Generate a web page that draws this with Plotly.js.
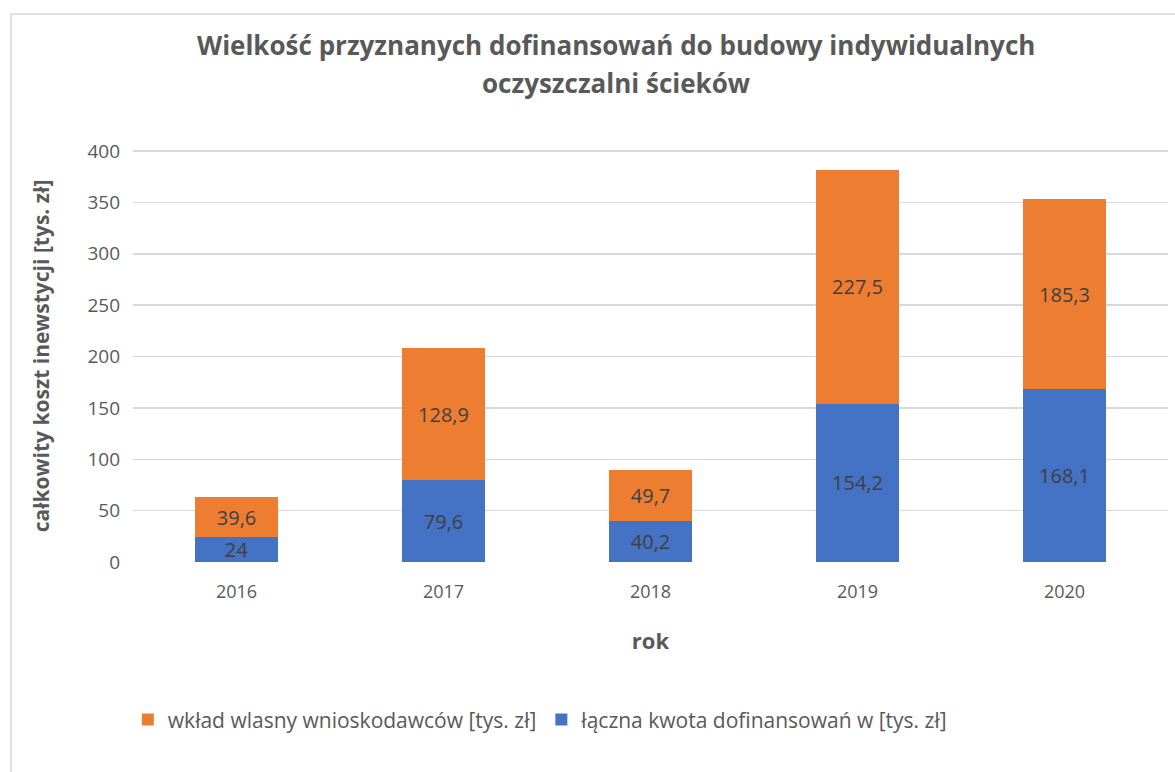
<!DOCTYPE html>
<html>
<head>
<meta charset="utf-8">
<script src="https://cdn.plot.ly/plotly-3.0.1.min.js"></script>
<style>html,body{margin:0;padding:0;background:#fff;}#chart{width:1175px;height:772px;}</style>
</head>
<body>
<div id="chart"></div>
<script>
const years = ['2016', '2017', '2018', '2019', '2020'];
const dofinansowanie = [24, 79.6, 40.2, 154.2, 168.1];
const wkladWlasny = [39.6, 128.9, 49.7, 227.5, 185.3];
const seriesNames = ['łączna kwota dofinansowań w [tys. zł]', 'wkład wlasny wnioskodawców [tys. zł]'];
const yTicks = [0, 50, 100, 150, 200, 250, 300, 350, 400];

const fmt = v => String(v).replace('.', ',');
const FONT = 'Open Sans, sans-serif';
const labelFont = {family: FONT, size: 20, color: '#404040'};

const traces = [
  {type: 'bar', x: years, y: dofinansowanie, name: seriesNames[0],
   marker: {color: '#4472C4'}, text: dofinansowanie.map(fmt),
   textposition: 'inside', insidetextanchor: 'middle', constraintext: 'none', textangle: 0,
   textfont: labelFont, hoverinfo: 'x+y'},
  {type: 'bar', x: years, y: wkladWlasny, name: seriesNames[1],
   marker: {color: '#ED7D31'}, text: wkladWlasny.map(fmt),
   textposition: 'inside', insidetextanchor: 'middle', constraintext: 'none', textangle: 0,
   textfont: labelFont, hoverinfo: 'x+y'}
];

const layout = {
  width: 1175, height: 772,
  margin: {l: 133, r: 7, t: 150, b: 210},
  paper_bgcolor: '#ffffff', plot_bgcolor: '#ffffff',
  barmode: 'stack', bargap: 0.595,
  font: {family: FONT, color: '#595959'},
  showlegend: true,
  legend: {orientation: 'h', traceorder: 'reversed', x: -0.005, xanchor: 'left',
           y: -0.383, yanchor: 'middle', itemwidth: 30,
           font: {family: FONT, size: 21, color: '#595959'}},
  xaxis: {type: 'category', showgrid: false, showline: false, ticks: '',
          ticklabelstandoff: 17,
          tickfont: {family: FONT, size: 18, color: '#595959'},
          title: {text: 'rok', font: {family: FONT, size: 22, color: '#595959', weight: 'bold'}, standoff: 31}},
  yaxis: {range: [0, 401], tickvals: yTicks, showgrid: true, gridcolor: '#d9d9d9', gridwidth: 1.5,
          zeroline: false, showline: false, ticks: '', ticklen: 0,
          ticklabelstandoff: 12,
          tickfont: {family: FONT, size: 19, color: '#595959'},
          title: {text: 'całkowity koszt inewstycji [tys. zł]', font: {family: FONT, size: 21, color: '#595959', weight: 'bold'}, standoff: 32}},
  annotations: [
    {text: 'Wielkość przyznanych dofinansowań do budowy indywidualnych', xref: 'paper', yref: 'paper',
     x: 0.467, y: 1.2549, xanchor: 'center', yanchor: 'middle', showarrow: false,
     font: {family: FONT, size: 26, color: '#595959', weight: 'bold'}},
    {text: 'oczyszczalni ścieków', xref: 'paper', yref: 'paper',
     x: 0.467, y: 1.1626, xanchor: 'center', yanchor: 'middle', showarrow: false,
     font: {family: FONT, size: 26, color: '#595959', weight: 'bold'}}
  ],
  shapes: [
    {type: 'rect', xref: 'paper', yref: 'paper', x0: -0.1179, x1: 1.03, y0: -0.53, y1: 1.330,
     line: {color: '#d9d9d9', width: 1.5}, fillcolor: 'rgba(0,0,0,0)', layer: 'below'}
  ]
};

Plotly.newPlot('chart', traces, layout, {displayModeBar: false, staticPlot: true});
</script>
</body>
</html>
